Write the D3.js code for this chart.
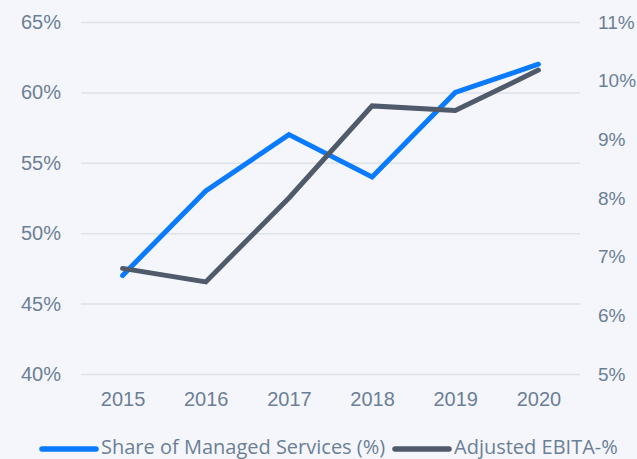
<!DOCTYPE html>
<html>
<head>
<meta charset="utf-8">
<script src="https://cdn.jsdelivr.net/npm/d3@7"></script>
<style>
  html, body { margin: 0; padding: 0; background: #f5f6fb; }
  svg { display: block; font-family: "Open Sans", sans-serif; }
</style>
</head>
<body>
<svg></svg>
<script>
// Managed services share vs adjusted EBITA
const years = ['2015', '2016', '2017', '2018', '2019', '2020'];
const managedShare = [47, 53, 57, 54, 60, 62];
const ebita = [6.8, 6.57, 8.0, 9.57, 9.49, 10.18];
const leftTicks = [40, 45, 50, 55, 60, 65];
const rightTicks = [5, 6, 7, 8, 9, 10, 11];
const seriesNames = ['Share of Managed Services (%)', 'Adjusted EBITA-%'];

const WIDTH = 637;
const HEIGHT = 459;
const LEFT = 81, RIGHT = 580, TOP = 22, BOTTOM = 374;
const TEXT_COLOR = '#6b7f96';
const BLUE = '#0a7bff';
const DARK = '#4f5a6b';
const FONT_SIZE = '20px';

const svg = d3.select('svg').attr('width', WIDTH).attr('height', HEIGHT);

// scales
const xScale = d3.scalePoint().domain(years).range([LEFT, RIGHT]).padding(0.5);
const yLeft = d3.scaleLinear().domain([40, 65]).range([BOTTOM, TOP]);
const yRight = d3.scaleLinear().domain([5, 11]).range([BOTTOM, TOP]);

// gridlines + left axis
const leftAxis = d3.axisLeft(yLeft).tickValues(leftTicks)
  .tickSize(-(RIGHT - LEFT)).tickPadding(20).tickFormat(d => d + '%');
svg.append('g').attr('transform', `translate(${LEFT},0)`).call(leftAxis)
  .call(g => g.select('.domain').remove())
  .call(g => g.selectAll('line').attr('stroke', '#dde1e8').attr('stroke-width', 1.5))
  .call(g => g.selectAll('text').attr('fill', TEXT_COLOR).style('font-size', FONT_SIZE));

// right axis labels only
const rightAxis = d3.axisRight(yRight).tickValues(rightTicks)
  .tickSize(0).tickPadding(18).tickFormat(d => d + '%');
svg.append('g').attr('transform', `translate(${RIGHT},0)`).call(rightAxis)
  .call(g => g.select('.domain').remove())
  .call(g => g.selectAll('text').attr('fill', TEXT_COLOR).style('font-size', '19px'));

// x axis
const xAxis = d3.axisBottom(xScale).tickSize(0).tickPadding(18);
svg.append('g').attr('transform', `translate(0,${BOTTOM})`).call(xAxis)
  .call(g => g.select('.domain').remove())
  .call(g => g.selectAll('text').attr('fill', TEXT_COLOR).style('font-size', FONT_SIZE));

// lines
const lineLeft = d3.line().x((d, i) => xScale(years[i])).y(d => yLeft(d));
const lineRight = d3.line().x((d, i) => xScale(years[i])).y(d => yRight(d));

svg.append('path').datum(managedShare)
  .attr('d', lineLeft)
  .attr('fill', 'none').attr('stroke', BLUE).attr('stroke-width', 5)
  .attr('stroke-linecap', 'round');

svg.append('path').datum(ebita)
  .attr('d', lineRight)
  .attr('fill', 'none').attr('stroke', DARK).attr('stroke-width', 5)
  .attr('stroke-linecap', 'round');

// legend
const legend = svg.append('g').attr('transform', 'translate(0,449)');
const legendItems = [
  { name: seriesNames[0], color: BLUE, x: 42 },
  { name: seriesNames[1], color: DARK, x: 395 }
];
legendItems.forEach(item => {
  legend.append('line')
    .attr('x1', item.x).attr('x2', item.x + 54)
    .attr('y1', 0).attr('y2', 0)
    .attr('stroke', item.color).attr('stroke-width', 5.5)
    .attr('stroke-linecap', 'round');
  legend.append('text')
    .attr('x', item.x + 59).attr('y', 5)
    .attr('fill', TEXT_COLOR)
    .style('font-size', FONT_SIZE)
    .text(item.name);
});
</script>
</body>
</html>
